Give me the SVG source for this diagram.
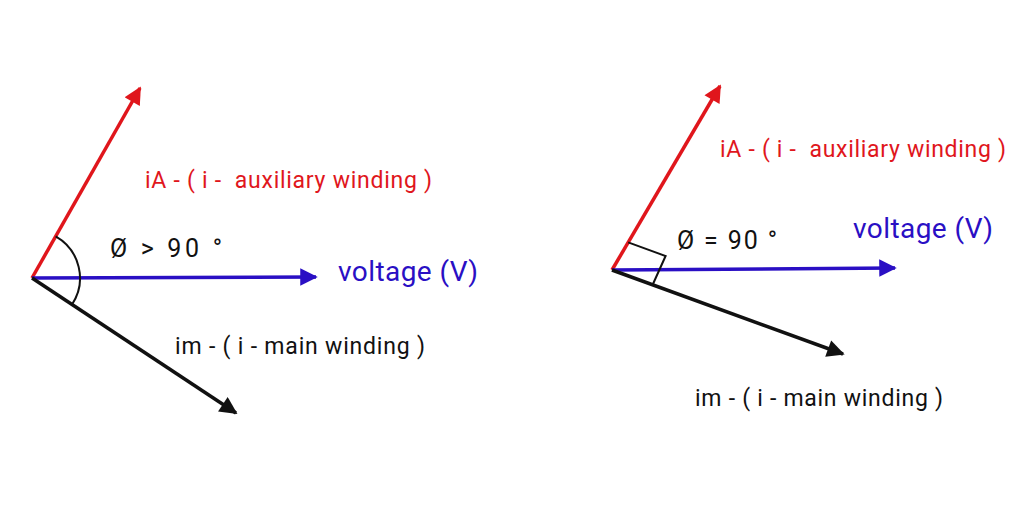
<svg xmlns="http://www.w3.org/2000/svg" width="1024" height="506" viewBox="0 0 1024 506" xml:space="preserve">
<defs>
<style>
text{font-family:Roboto,"Liberation Sans",sans-serif;white-space:pre}
.r{fill:#e0161c}.b{fill:#2a0fc4}.k{fill:#111}
.ln{stroke-width:3.5;fill:none}
</style>
<marker id="mr" viewBox="0 0 10 10" refX="9" refY="5" markerWidth="6" markerHeight="5" orient="auto"><path d="M0,0L10,5L0,10z" fill="#e0161c"/></marker>
<marker id="mb" viewBox="0 0 10 10" refX="9" refY="5" markerWidth="6" markerHeight="5" orient="auto"><path d="M0,0L10,5L0,10z" fill="#2a0fc4"/></marker>
<marker id="mk" viewBox="0 0 10 10" refX="9" refY="5" markerWidth="6" markerHeight="5" orient="auto"><path d="M0,0L10,5L0,10z" fill="#111"/></marker>
</defs>
<rect width="1024" height="506" fill="#fff"/>
<g id="connectors">
<line x1="32" y1="278" x2="140" y2="88" stroke="#e0161c" class="ln" marker-end="url(#mr)"/>
<line x1="32" y1="278" x2="316" y2="277" stroke="#2a0fc4" class="ln" marker-end="url(#mb)"/>
<line x1="32" y1="278" x2="236" y2="413" stroke="#111" class="ln" marker-end="url(#mk)"/>
<path d="M55.7,236.3A48,48 0 0 1 72,304.5" stroke="#111" stroke-width="2" fill="none"/>
<line x1="612" y1="270" x2="720" y2="86" stroke="#e0161c" class="ln" marker-end="url(#mr)"/>
<line x1="612" y1="270" x2="895" y2="268" stroke="#2a0fc4" class="ln" marker-end="url(#mb)"/>
<line x1="612" y1="270" x2="843" y2="354" stroke="#111" class="ln" marker-end="url(#mk)"/>
<path d="M628.2,242.4L665.6,256L653,284" stroke="#111" stroke-width="2" fill="none"/>
</g>
<g id="left-labels">
<text x="145" y="188" font-size="23" class="r" textLength="287">iA - ( i -  auxiliary winding )</text>
<text x="110" y="257" font-size="25" class="k" textLength="112">Ø &gt; 90 °</text>
<text x="338" y="281" font-size="28" class="b" textLength="140">voltage (V)</text>
<text x="175" y="354" font-size="23" class="k" textLength="250">im - ( i - main winding )</text>
</g>
<g id="right-labels">
<text x="720" y="157" font-size="23" class="r" textLength="286">iA - ( i -  auxiliary winding )</text>
<text x="677" y="249" font-size="25" class="k" textLength="100">Ø = 90 °</text>
<text x="853" y="238" font-size="28" class="b" textLength="140">voltage (V)</text>
<text x="695" y="406" font-size="23" class="k" textLength="248">im - ( i - main winding )</text>
</g>
</svg>
